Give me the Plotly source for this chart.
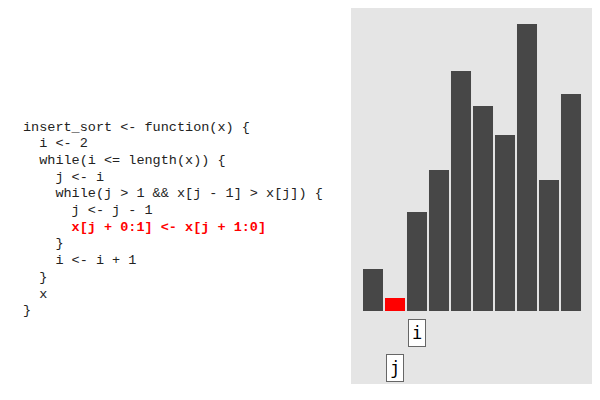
import plotly.graph_objects as go

positions = list(range(1, 11))
values = [42, 13, 99, 141, 240, 205, 176, 287, 131, 217]
colors = ["#474747"] * 10
colors[1] = "red"
pointer_names = ["i", "j"]
pointer_pos = [3, 2]
pointer_y = [-22, -57]
code_lines = [
    "insert_sort <- function(x) {",
    "  i <- 2",
    "  while(i <= length(x)) {",
    "    j <- i",
    "    while(j > 1 && x[j - 1] > x[j]) {",
    "      j <- j - 1",
    "      x[j + 0:1] <- x[j + 1:0]",
    "    }",
    "    i <- i + 1",
    "  }",
    "  x",
    "}",
]
highlight = 6

fig = go.Figure(go.Bar(x=positions, y=values, marker_color=colors, marker_line_width=0,
                       width=0.91, hoverinfo="skip"))
for n, p, yy in zip(pointer_names, pointer_pos, pointer_y):
    fig.add_annotation(x=p, y=yy, text=n, showarrow=False, xref="x", yref="y",
                       font=dict(family="DejaVu Sans Mono", size=17, color="black"),
                       bgcolor="white", bordercolor="#666", borderwidth=1, borderpad=3)
y0 = 1 - 119 / 392
step = 16.7 / 392
for k, line in enumerate(code_lines):
    hl = k == highlight
    t = line.replace(" ", "&nbsp;")
    fig.add_annotation(x=13 / 592, y=y0 - k * step, xref="paper", yref="paper",
                       xanchor="left", yanchor="middle", showarrow=False,
                       text=("<b>" + t + "</b>") if hl else t,
                       font=dict(family="Liberation Mono", size=13.5, color="red" if hl else "#222"))
fig.update_layout(width=592, height=392, margin=dict(l=0, r=0, t=0, b=0),
                  paper_bgcolor="white", plot_bgcolor="#e5e5e5", showlegend=False,
                  xaxis=dict(domain=[343 / 592, 585 / 592], range=[0, 11], visible=False, fixedrange=True),
                  yaxis=dict(domain=[16 / 392, 1], range=[-73, 303], visible=False, fixedrange=True))
fig.write_html("out.html")
